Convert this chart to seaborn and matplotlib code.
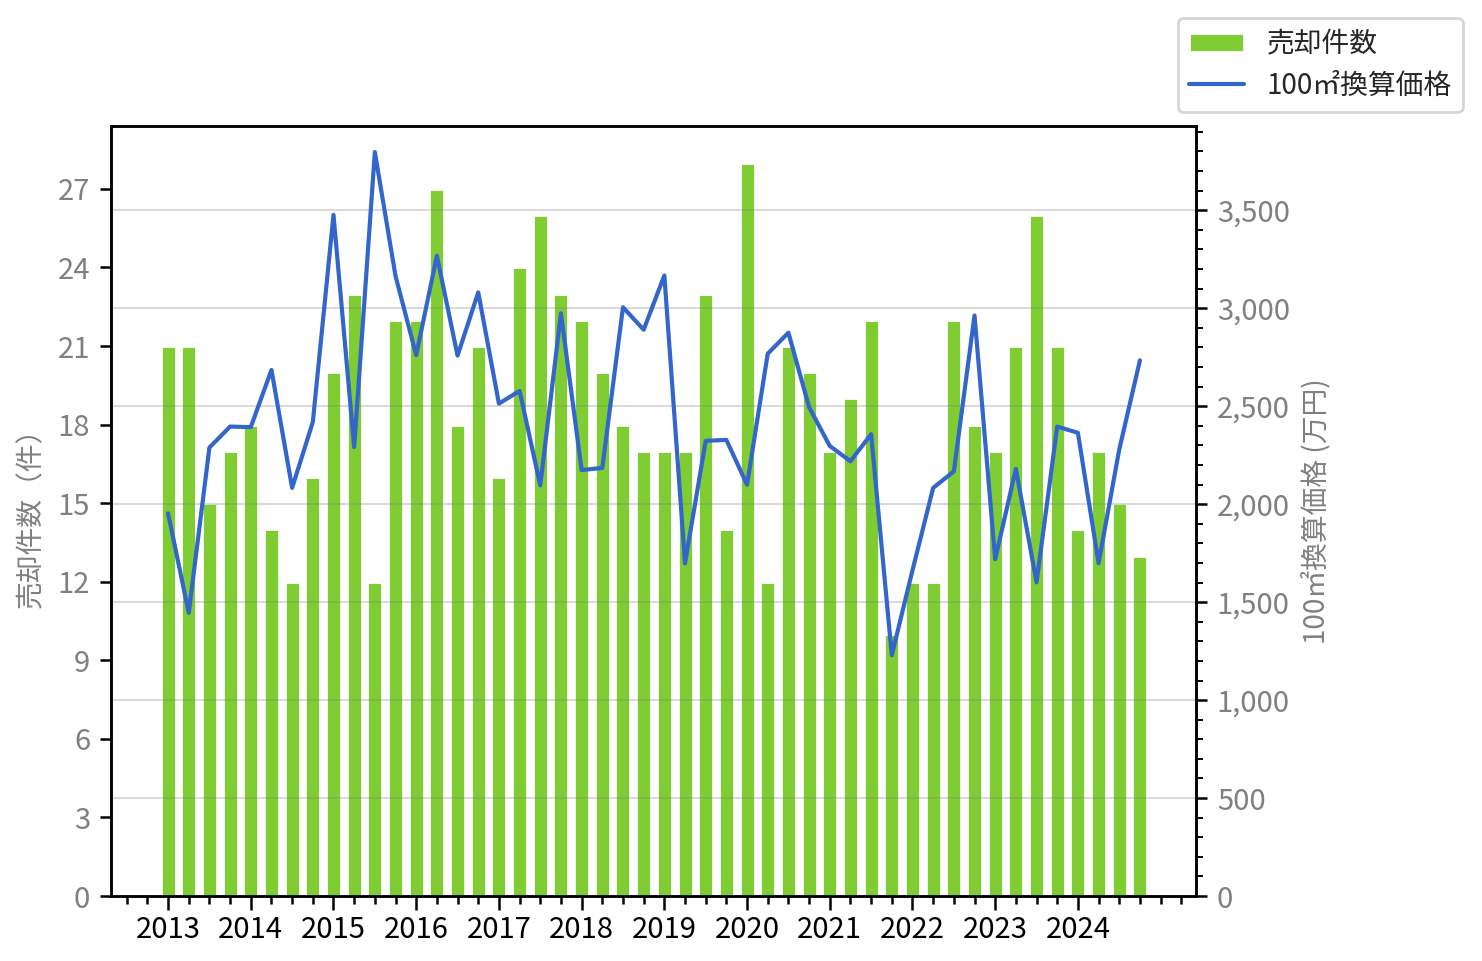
import numpy as np
import pandas as pd
import matplotlib
matplotlib.use("Agg")
import matplotlib.pyplot as plt
import seaborn as sns
from matplotlib.ticker import MultipleLocator, FuncFormatter

# 四半期ごとのデータ (2013Q1 - 2024Q4)
years = list(range(2013, 2025))
sales_count = [
    21, 21, 15, 17,
    18, 14, 12, 16,
    20, 23, 12, 22,
    22, 27, 18, 21,
    16, 24, 26, 23,
    22, 20, 18, 17,
    17, 17, 23, 14,
    28, 12, 21, 20,
    17, 19, 22, 10,
    12, 12, 22, 18,
    17, 21, 26, 21,
    14, 17, 15, 13,
]
price_100m2 = [
    1953, 1445, 2289, 2396,
    2393, 2685, 2083, 2419,
    3476, 2292, 3797, 3164,
    2760, 3268, 2758, 3081,
    2513, 2578, 2096, 2974,
    2174, 2185, 3005, 2890,
    3167, 1698, 2323, 2328,
    2099, 2768, 2875, 2495,
    2297, 2219, 2357, 1229,
    1662, 2083, 2167, 2963,
    1719, 2180, 1601, 2396,
    2364, 1698, 2279, 2734,
]

df = pd.DataFrame({
    "q": np.arange(len(sales_count)),
    "件数": sales_count,
    "価格": price_100m2,
})

sns.set_theme(style="white")
plt.rcParams["font.family"] = ["Noto Sans CJK JP", "DejaVu Sans"]

BAR_COLOR = "#80cc33"
LINE_COLOR = "#3366cc"
LABEL_GRAY = "#808080"
TICK_FS = 10.5

fig = plt.figure(figsize=(7.41, 4.805), dpi=200)
ax = fig.add_axes([0.0749, 0.0676, 0.7321, 0.8013])
ax2 = ax.twinx()

sns.barplot(data=df, x="q", y="件数", ax=ax, color=BAR_COLOR, width=0.725,
            saturation=1, native_scale=True, label="売却件数")
sns.lineplot(data=df, x="q", y="価格", ax=ax2, color=LINE_COLOR, linewidth=1.5,
             label="100㎡換算価格", legend=False)

# x軸: 四半期ごとの目盛り、年ラベル
ax.set_xlim(-2.76, 49.71)
ax.set_xticks(np.arange(0, len(sales_count), 4))
ax.set_xticklabels([str(y) for y in years])
ax.set_xticks(np.arange(-2, 50), minor=True)
ax.set_xlabel("")
ax.tick_params(axis="x", which="major", length=5, width=0.9, color="black",
               labelcolor="black", labelsize=TICK_FS, bottom=True, direction="out",
               pad=2)
ax.tick_params(axis="x", which="minor", length=3, width=0.9, color="black",
               bottom=True, direction="out")

# 左軸
ax.set_ylim(0, 29.4)
ax.yaxis.set_major_locator(MultipleLocator(3))
ax.set_ylabel("売却件数（件）", color=LABEL_GRAY, fontsize=10)
ax.tick_params(axis="y", which="major", length=4, width=0.9, color="black",
               labelcolor=LABEL_GRAY, labelsize=TICK_FS, left=True, direction="out")

# 右軸
ax2.set_ylim(0, 3930)
ax2.yaxis.set_major_locator(MultipleLocator(500))
ax2.yaxis.set_minor_locator(MultipleLocator(100))
ax2.yaxis.set_major_formatter(FuncFormatter(lambda v, p: f"{int(v):,}"))
ax2.set_ylabel("100㎡換算価格 (万円)", color=LABEL_GRAY, fontsize=10)
ax2.tick_params(axis="y", which="major", length=4, width=0.9, color="black",
                labelcolor=LABEL_GRAY, labelsize=TICK_FS, right=True, direction="out")
ax2.tick_params(axis="y", which="minor", length=2.5, width=0.7, color="black",
                right=True, direction="out")
ax2.grid(axis="y", which="major", color="gray", alpha=0.35, linewidth=0.6)
ax2.set_xlabel("")

for a in (ax, ax2):
    for s in a.spines.values():
        s.set_color("black")
        s.set_linewidth(0.9)

# 凡例 (図の右上)
h1, l1 = ax.get_legend_handles_labels()
h2, l2 = ax2.get_legend_handles_labels()
if ax.get_legend() is not None:
    ax.get_legend().remove()
fig.legend(h1 + h2, l1 + l2, loc="upper right", bbox_to_anchor=(0.987, 0.981),
           borderaxespad=0, frameon=True, edgecolor="#cccccc", fancybox=True,
           fontsize=10, handlelength=2.0, handletextpad=0.8, labelspacing=0.4)

fig.savefig("out.png", dpi=200)
